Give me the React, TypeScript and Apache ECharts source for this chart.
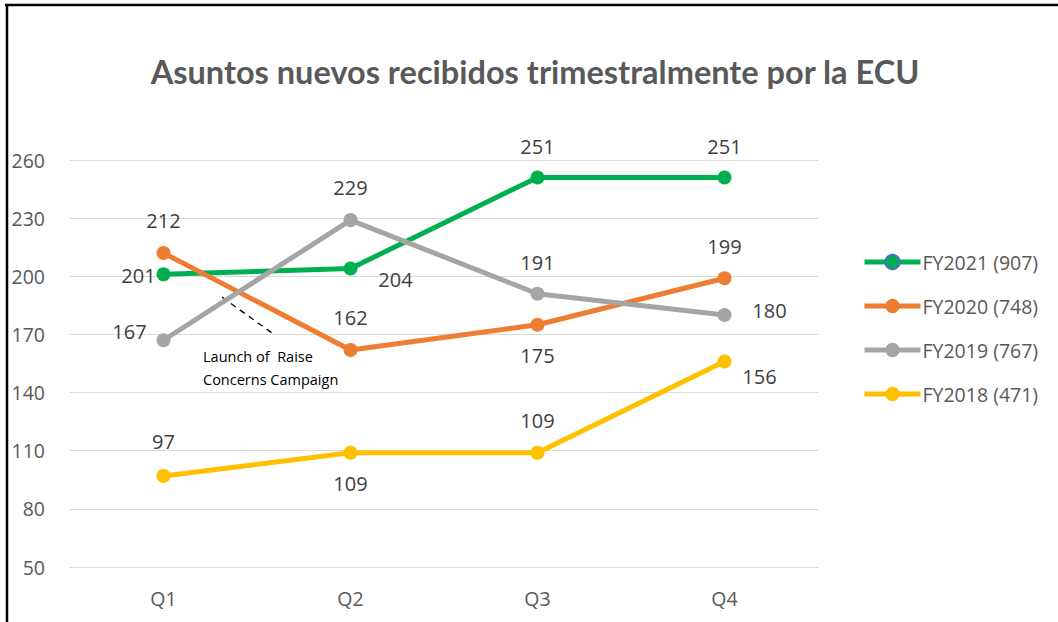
import React, { useEffect, useRef } from "react";
import * as echarts from "echarts";

const categories = ["Q1", "Q2", "Q3", "Q4"];
const seriesNames = ["FY2021 (907)", "FY2020 (748)", "FY2019 (767)", "FY2018 (471)"];
const fy2021 = [201, 204, 251, 251];
const fy2020 = [212, 162, 175, 199];
const fy2019 = [167, 229, 191, 180];
const fy2018 = [97, 109, 109, 156];
const yTicks = { min: 50, max: 260, interval: 30 };
const titleText = "Asuntos nuevos recibidos trimestralmente por la ECU";
const annotationText = "Launch of  Raise\nConcerns Campaign";

const colors = ["#00B050", "#ED7D31", "#A5A5A5", "#FFC000"];
// label offsets (dx, dy) from each point's centre
const labelOffsets: number[][][] = [
  [[-25, 1], [45, 11], [0, -31], [0, -31]],
  [[0, -33], [0, -32], [0, 31], [0, -32]],
  [[-34, -9], [0, -33], [0, -31], [45, -5]],
  [[0, -34], [0, 31], [0, -32], [35, 15]],
];

export default function App() {
  const ref = useRef<HTMLDivElement>(null);
  useEffect(() => {
    if (!ref.current) return;
    const chart = echarts.init(ref.current, null, { renderer: "svg" });
    const values = [fy2021, fy2020, fy2019, fy2018];
    const font = "Open Sans, Noto Sans, sans-serif";
    chart.setOption({
      animation: false,
      backgroundColor: "#ffffff",
      title: {
        text: titleText,
        left: 530,
        textAlign: "center",
        top: 50,
        textStyle: { fontFamily: "Lato, sans-serif", fontWeight: "bold", fontSize: 32.5, color: "#595959" },
      },
      grid: { left: 70, right: 240, top: 160, bottom: 55, containLabel: false },
      legend: {
        orient: "vertical",
        left: 857,
        top: 247,
        itemGap: 24,
        itemWidth: 56,
        itemHeight: 18,
        lineStyle: { width: 5 },
        textStyle: { fontFamily: font, fontSize: 19.5, color: "#595959", padding: [0, 0, 0, -3] },
        data: seriesNames.map((n, i) =>
          i === 0
            ? { name: n, itemStyle: { borderColor: "#4472C4", borderWidth: 2 } }
            : { name: n }
        ),
      },
      xAxis: {
        type: "category",
        data: categories,
        boundaryGap: true,
        axisLine: { show: true, lineStyle: { color: "#D9D9D9", width: 1 } },
        axisTick: { show: false },
        axisLabel: { fontFamily: font, fontSize: 19.5, color: "#595959", margin: 21 },
      },
      yAxis: {
        type: "value",
        min: yTicks.min,
        max: yTicks.max,
        interval: yTicks.interval,
        axisLine: { show: false },
        axisTick: { show: false },
        splitLine: { lineStyle: { color: "#D9D9D9", width: 1 } },
        axisLabel: { fontFamily: font, fontSize: 19.5, color: "#595959", margin: 25 },
      },
      series: values.map((vals, si) => ({
        name: seriesNames[si],
        type: "line",
        data: vals.map((v, i) => ({
          value: v,
          label: { offset: labelOffsets[si][i] },
        })),
        symbol: "circle",
        symbolSize: 14,
        lineStyle: { width: 5, color: colors[si] },
        itemStyle: { color: colors[si] },
        label: {
          show: true,
          position: "inside",
          fontFamily: font,
          fontSize: 20,
          color: "#404040",
        },
        z: 2 + si,
      })),
      graphic: [
        { type: "line", shape: { x1: 5, y1: 5, x2: 1058, y2: 5 }, style: { stroke: "#000", lineWidth: 2.5 } },
        { type: "line", shape: { x1: 7, y1: 4, x2: 7, y2: 622 }, style: { stroke: "#000", lineWidth: 2.5 } },
        {
          type: "line",
          shape: { x1: 222, y1: 297, x2: 272, y2: 333 },
          style: { stroke: "#000", lineWidth: 1.3, lineDash: [6, 5] },
        },
        {
          type: "text",
          x: 203,
          y: 345,
          style: {
            text: annotationText,
            fontFamily: "Open Sans, sans-serif",
            fontSize: 14.5,
            lineHeight: 23,
            fill: "#000",
          },
        },
      ],
    });
    return () => chart.dispose();
  }, []);
  return (
    <div
      ref={ref}
      style={{ position: "fixed", left: 0, top: 0, width: 1058, height: 622 }}
    />
  );
}
